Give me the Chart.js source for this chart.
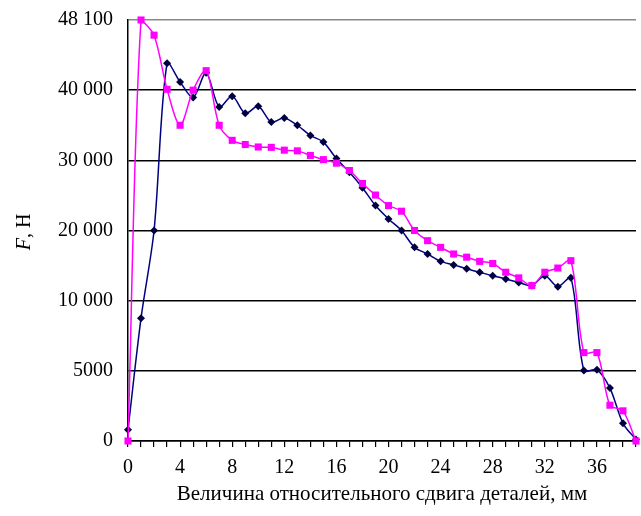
<!DOCTYPE html>
<html>
<head>
<meta charset="utf-8">
<script src="https://cdn.jsdelivr.net/npm/chart.js@4"></script>
<style>
  body { margin: 0; background: #fff; }
  #wrap { width: 641px; height: 516px; position: relative; }
</style>
</head>
<body>
<div id="wrap"><canvas id="forceChart"></canvas></div>
<script>
"use strict";

// shift, mm
const shift = [0, 1, 2, 3, 4, 5, 6, 7, 8, 9, 10, 11, 12, 13, 14, 15, 16, 17, 18, 19,
    20, 21, 22, 23, 24, 25, 26, 27, 28, 29, 30, 31, 32, 33, 34, 35, 36, 37, 38, 39];

// force F, N (navy diamonds)
const forceA = [800, 8750, 20000, 43100, 40950, 38950, 42000, 37600, 39150, 36700,
    37700, 35450, 36050, 35000, 33550, 32600, 30250, 28300, 26100, 23550,
    21650, 20000, 17600, 16650, 15600, 15100, 14550, 14050, 13550, 13100,
    12600, 12150, 13550, 12000, 13250, 5020, 5070, 3770, 1260, 100];

// force F, N (magenta squares)
const forceB = [0, 48100, 46350, 40100, 35000, 40000, 42250, 35000, 32850, 32250,
    31900, 31850, 31450, 31350, 30700, 30100, 29600, 28550, 26700, 25050,
    23550, 22750, 20000, 18550, 17600, 16650, 16200, 15600, 15300, 14050,
    13250, 12150, 14050, 14650, 15700, 6300, 6300, 2550, 2150, 0];

// y axis: tick labels are spaced evenly although their values are not
const yTickValues = [0, 5000, 10000, 20000, 30000, 40000, 48100];
const yTickLabels = ["0", "5000", "10 000", "20 000", "30 000", "40 000", "48 100"];

// piecewise map from newtons to the evenly spaced axis steps
function toAxis(v) {
    for (let i = 1; i < yTickValues.length; i++) {
        if (v <= yTickValues[i]) {
            let lo = yTickValues[i - 1], hi = yTickValues[i];
            return i - 1 + (v - lo) / (hi - lo);
        }
    }
    return yTickValues.length - 1;
}

function points(values) {
    return values.map((v, i) => ({ x: shift[i], y: toAxis(v) }));
}

const yTitle = {
    id: "yTitle",
    afterDraw(chart) {
        let ctx = chart.ctx;
        ctx.save();
        ctx.translate(25, 232);
        ctx.rotate(-Math.PI / 2);
        ctx.fillStyle = "#000";
        ctx.textBaseline = "middle";
        ctx.font = "italic 20px 'Liberation Serif'";
        let wF = ctx.measureText("F").width;
        ctx.font = "20px 'Liberation Serif'";
        let wRest = ctx.measureText(", Н").width;
        let x0 = -(wF + wRest) / 2;
        ctx.font = "italic 20px 'Liberation Serif'";
        ctx.fillText("F", x0, 0);
        ctx.font = "20px 'Liberation Serif'";
        ctx.fillText(", Н", x0 + wF, 0);
        ctx.restore();
    }
};

let ctx = document.getElementById("forceChart").getContext("2d");
new Chart(ctx, {
    type: "line",
    data: {
        datasets: [
            {
                label: "B",
                data: points(forceB),
                borderColor: "#ff00ff",
                backgroundColor: "#ff00ff",
                borderWidth: 1.5,
                pointStyle: "rect",
                pointRadius: 5,
                pointBorderWidth: 0,
                tension: 0.3,
                clip: false,
            },
            {
                label: "A",
                data: points(forceA),
                borderColor: "#000080",
                backgroundColor: "#000040",
                borderWidth: 1.5,
                pointStyle: "rectRot",
                pointRadius: 4,
                pointBorderWidth: 0,
                tension: 0.3,
                clip: false,
            },
        ],
    },
    options: {
        responsive: true,
        maintainAspectRatio: false,
        animation: false,
        layout: { padding: { top: 20, right: -3, bottom: 0, left: 0 } },
        plugins: {
            legend: { display: false },
            tooltip: { enabled: false },
        },
        scales: {
            x: {
                type: "linear",
                min: 0,
                max: 39,
                afterFit: (scale) => {
                    scale.height = 75;
                    scale.paddingRight = 0;
                },
                grid: {
                    drawOnChartArea: false,
                    drawTicks: true,
                    tickLength: 6,
                    color: "#000",
                    lineWidth: 1.2,
                },
                border: { color: "#000", width: 1.5 },
                ticks: {
                    stepSize: 1,
                    autoSkip: false,
                    maxRotation: 0,
                    padding: 11,
                    color: "#000",
                    font: { family: "'Liberation Serif'", size: 20, lineHeight: 1 },
                    callback: (v) => (v % 4 === 0 ? String(v) : ""),
                },
                title: {
                    display: true,
                    text: "Величина относительного сдвига деталей, мм",
                    color: "#000",
                    font: { family: "'Liberation Serif'", size: 21, lineHeight: 1.1 },
                    padding: { top: 4, bottom: 10 },
                },
            },
            y: {
                type: "linear",
                min: 0,
                max: yTickValues.length - 1,
                afterFit: (scale) => {
                    scale.width = 128;
                    scale.paddingTop = 0;
                    scale.paddingBottom = 0;
                },
                grid: {
                    drawTicks: false,
                    color: (c) => (c.tick && c.tick.value === yTickValues.length - 1 ? "#888" : "#000"),
                    lineWidth: 1.5,
                },
                border: { color: "#000", width: 1.5 },
                ticks: {
                    stepSize: 1,
                    padding: 15,
                    color: "#000",
                    font: { family: "'Liberation Serif'", size: 20 },
                    callback: (v) => yTickLabels[v],
                },
            },
        },
    },
    plugins: [yTitle],
});
</script>
</body>
</html>
